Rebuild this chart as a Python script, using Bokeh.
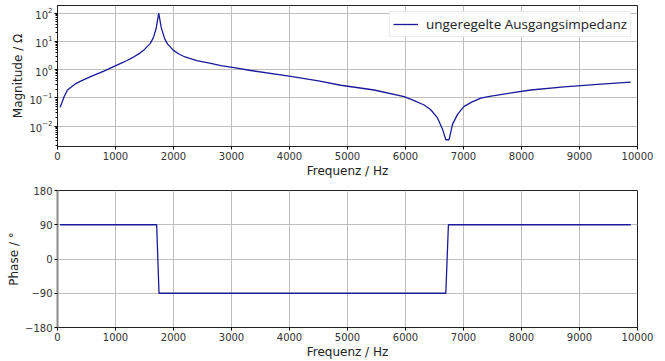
from bokeh.plotting import figure
from bokeh.layouts import column
from bokeh.models import Range1d, FixedTicker, Legend, LegendItem
from bokeh.embed import file_html
from bokeh.resources import INLINE

# ---- data ----
freq_mag = [45, 80, 114, 172, 316, 400, 600, 800, 1005, 1100, 1200, 1300, 1400,
            1500, 1600, 1650, 1700, 1745, 1790, 1850, 1900, 2000, 2100, 2200,
            2400, 2643, 2816, 3017, 3333, 3993, 4500, 4884, 5459, 5976, 6150,
            6321, 6436, 6552, 6638, 6695, 6752, 6810, 6897, 7010, 7150, 7298,
            7450, 7586, 8160, 8734, 9310, 9884]
magnitude = [0.047, 0.071, 0.11, 0.19, 0.32, 0.39, 0.60, 0.88, 1.38, 1.7, 2.1,
             2.7, 3.6, 5.2, 8.5, 13, 28, 100, 30, 12, 8.0, 4.8, 3.5, 2.8, 2.1,
             1.66, 1.38, 1.2, 0.93, 0.59, 0.40, 0.28, 0.19, 0.11, 0.08, 0.056,
             0.038, 0.0195, 0.0078, 0.0033, 0.0033, 0.0115, 0.026, 0.050, 0.072,
             0.098, 0.113, 0.126, 0.19, 0.245, 0.30, 0.36]
freq_phase = [45, 1710, 1750, 6695, 6740, 9884]
phase = [90, 90, -90, -90, 90, 90]

x_ticks = [0, 1000, 2000, 3000, 4000, 5000, 6000, 7000, 8000, 9000, 10000]
phase_ticks = [-180, -90, 0, 90, 180]
phase_tick_labels = {-180: "\u2212180", -90: "\u221290", 0: "0", 90: "90", 180: "180"}
series_label = "ungeregelte Ausgangsimpedanz"
x_label = "Frequenz / Hz"
mag_label = "Magnitude / \u03a9"
phase_label = "Phase / \u00b0"

LINE = "#1a1a9a"
GRID = "#bdbdbd"
FONT = "DejaVu Sans"


def style(p):
    p.background_fill_color = "white"
    p.border_fill_color = "white"
    p.outline_line_color = "#222222"
    p.outline_line_width = 1
    p.xgrid.grid_line_color = GRID
    p.ygrid.grid_line_color = GRID
    p.xgrid.grid_line_width = 1
    p.ygrid.grid_line_width = 1
    p.xaxis.ticker = FixedTicker(ticks=x_ticks)
    for ax in (p.xaxis[0], p.yaxis[0]):
        ax.axis_label_text_font = FONT
        ax.axis_label_text_font_style = "normal"
        ax.axis_label_text_font_size = "12px"
        ax.axis_label_text_color = "#222222"
        ax.major_label_text_font = FONT
        ax.major_label_text_font_size = "10px"
        ax.major_label_text_color = "#333333"
        ax.major_tick_in = 0
        ax.major_tick_out = 3
        ax.minor_tick_in = 0
        ax.minor_tick_out = 2
        ax.major_label_standoff = 2
        ax.axis_label_standoff = 1
        ax.axis_line_color = "#222222"
    p.xaxis.axis_label = x_label
    p.xaxis.minor_tick_line_color = None


p1 = figure(width=665, height=180, output_backend="svg", toolbar_location=None,
            y_axis_type="log", x_range=Range1d(0, 10000),
            y_range=Range1d(0.0019, 186),
            min_border_left=57, min_border_right=28,
            min_border_top=5, min_border_bottom=31)
style(p1)
p1.yaxis.axis_label = mag_label
r1 = p1.line(freq_mag, magnitude, line_color=LINE, line_width=1.3)

legend = Legend(items=[LegendItem(label=series_label, renderers=[r1])],
                location="top_right")
legend.label_text_font = "Open Sans"
legend.label_text_font_size = "13.5px"
legend.label_text_color = "#222222"
legend.border_line_color = "#d8d8d8"
legend.border_line_width = 1
legend.background_fill_color = "white"
legend.background_fill_alpha = 0.9
legend.margin = 6
legend.padding = 3
legend.spacing = 0
legend.glyph_width = 25
legend.glyph_height = 16
legend.label_height = 16
legend.label_standoff = 8
p1.add_layout(legend)

p2 = figure(width=665, height=181, output_backend="svg", toolbar_location=None,
            x_range=Range1d(0, 10000), y_range=Range1d(-180, 180),
            min_border_left=57, min_border_right=28,
            min_border_top=10, min_border_bottom=28)
style(p2)
p2.yaxis.axis_label = phase_label
p2.yaxis.ticker = FixedTicker(ticks=phase_ticks)
p2.yaxis.major_label_overrides = phase_tick_labels
p2.yaxis.minor_tick_line_color = None
p2.yaxis.axis_line_color = "#8a8a8a"
p2.yaxis.axis_line_width = 2
p2.line(freq_phase, phase, line_color=LINE, line_width=1.3)

layout = column(p1, p2, spacing=0)
open("out.html", "w").write(file_html(layout, INLINE))
